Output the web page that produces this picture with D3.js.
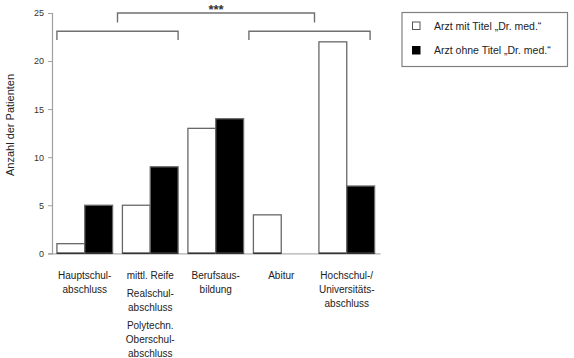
<!DOCTYPE html>
<html>
<head>
<meta charset="utf-8">
<script src="https://cdn.jsdelivr.net/npm/d3@7"></script>
<style>
  html, body { margin: 0; padding: 0; background: #fff; }
  svg { display: block; font-family: "Liberation Sans", Arial, sans-serif; }
</style>
</head>
<body>
<svg id="chart" width="574" height="358"></svg>
<script>
// ---- data ----
const categories = ["Hauptschul", "mittlReife", "Berufsausbildung", "Abitur", "Hochschul"];
// label paragraphs per category (each paragraph = list of lines)
const categoryLabels = [
  [["Hauptschul-", "abschluss"]],
  [["mittl. Reife"], ["Realschul-", "abschluss"], ["Polytechn.", "Oberschul-", "abschluss"]],
  [["Berufsaus-", "bildung"]],
  [["Abitur"]],
  [["Hochschul-/", "Universitäts-", "abschluss"]]
];
const seriesNames = ["Arzt mit Titel \u201EDr. med.\u201C", "Arzt ohne Titel \u201EDr. med.\u201C"];
const withTitle = [1, 5, 13, 4, 22];
const withoutTitle = [5, 9, 14, 0, 7];
const yTicks = [0, 5, 10, 15, 20, 25];
const yTitle = "Anzahl der Patienten";
// significance brackets: from category, to category, top value, leg value
const brackets = [
  { from: 0, to: 1, top: 23.1, leg: 22.2 },
  { from: 3, to: 4, top: 23.1, leg: 22.2 }
];
const topBracket = { top: 25.0, leg: 24.0, label: "***" };

// ---- layout ----
const svg = d3.select("#chart");
const x0 = 52, x1 = 379.5, yTop = 13, yBottom = 253.3;

const x = d3.scaleBand().domain(categories).range([x0, x1]).paddingInner(0.15).paddingOuter(0.075);
const xs = d3.scaleBand().domain([0, 1]).range([0, x.bandwidth()]);
const y = d3.scaleLinear().domain([0, 25]).range([yBottom, yTop]);

const fills = ["#ffffff", "#000000"];
const rows = categories.map((c, i) => ({ c, vals: [withTitle[i], withoutTitle[i]] }));

// x axis baseline
svg.append("line")
  .attr("x1", x0).attr("x2", x1 + 1)
  .attr("y1", y(0) + 0.5).attr("y2", y(0) + 0.5)
  .attr("stroke", "#b0b0b0").attr("stroke-width", 1.2);

// y axis
const yAxis = d3.axisLeft(y).tickValues(yTicks).tickSize(4).tickPadding(4);
const gy = svg.append("g").attr("transform", `translate(${x0},0)`).call(yAxis);
gy.select(".domain").attr("stroke", "#a0a0a0").attr("stroke-width", 1.2);
gy.selectAll(".tick line").attr("stroke", "#a0a0a0");
gy.selectAll(".tick text").attr("font-size", 9).attr("fill", "#333")
  .attr("font-family", "'Liberation Sans', Arial, sans-serif");

// bars
const g = svg.append("g");
rows.forEach(r => {
  r.vals.forEach((v, k) => {
    if (v <= 0) return;
    const bx = x(r.c) + xs(k);
    g.append("rect")
      .attr("x", bx).attr("y", y(v))
      .attr("width", xs.bandwidth()).attr("height", y(0) - y(v))
      .attr("fill", fills[k])
      .attr("stroke", "#686868").attr("stroke-width", 1.3);
    g.append("line")
      .attr("x1", bx).attr("x2", bx + xs.bandwidth())
      .attr("y1", y(0)).attr("y2", y(0))
      .attr("stroke", "#333").attr("stroke-width", 1.5);
  });
});

// brackets
const bcol = "#707070";
function bracketPath(xa, xb, top, leg) {
  return `M${xa},${y(leg)}V${y(top)}H${xb}V${y(leg)}`;
}
const centers = [];
brackets.forEach((b, i) => {
  const shift = i === 1 ? -4.5 : 0;
  const xa = x(categories[b.from]) + shift;
  const xb = x(categories[b.to]) + x.bandwidth() + shift;
  centers.push((xa + xb) / 2);
  svg.append("path").attr("d", bracketPath(xa, xb, b.top, b.leg))
    .attr("fill", "none").attr("stroke", bcol).attr("stroke-width", 1.4);
});
centers[1] += 5;
svg.append("path").attr("d", bracketPath(centers[0], centers[1], topBracket.top, topBracket.leg))
  .attr("fill", "none").attr("stroke", bcol).attr("stroke-width", 1.4);
svg.append("text")
  .attr("x", (centers[0] + centers[1]) / 2).attr("y", y(topBracket.top) + 0.5)
  .attr("text-anchor", "middle").attr("font-size", 13).attr("font-weight", "bold")
  .attr("fill", "#333").text(topBracket.label);

// x labels
const lineH = 14, paraGap = 4, firstBase = 279;
categoryLabels.forEach((paras, i) => {
  const cx = x(categories[i]) + x.bandwidth() / 2;
  let yy = firstBase;
  paras.forEach((lines, p) => {
    if (p > 0) yy += paraGap;
    lines.forEach(line => {
      svg.append("text").attr("x", cx).attr("y", yy)
        .attr("text-anchor", "middle").attr("font-size", 10).attr("fill", "#222")
        .text(line);
      yy += lineH;
    });
  });
});

// y title
svg.append("text")
  .attr("transform", `translate(14,125) rotate(-90)`)
  .attr("text-anchor", "middle").attr("font-size", 11).attr("fill", "#222")
  .text(yTitle);

// legend
const lg = svg.append("g");
lg.append("rect").attr("x", 402).attr("y", 12.5).attr("width", 165.5).attr("height", 54)
  .attr("fill", "#fff").attr("stroke", "#808080").attr("stroke-width", 1.2);
seriesNames.forEach((name, k) => {
  const yy = 22 + k * 24.5;
  lg.append("rect").attr("x", 412.5).attr("y", yy).attr("width", 7.5).attr("height", 7.5)
    .attr("fill", fills[k]).attr("stroke", k === 0 ? "#555" : "#000").attr("stroke-width", 1);
  lg.append("text").attr("x", 434).attr("y", yy + 7.5)
    .attr("font-size", 10.5).attr("fill", "#222").text(name);
});
</script>
</body>
</html>
